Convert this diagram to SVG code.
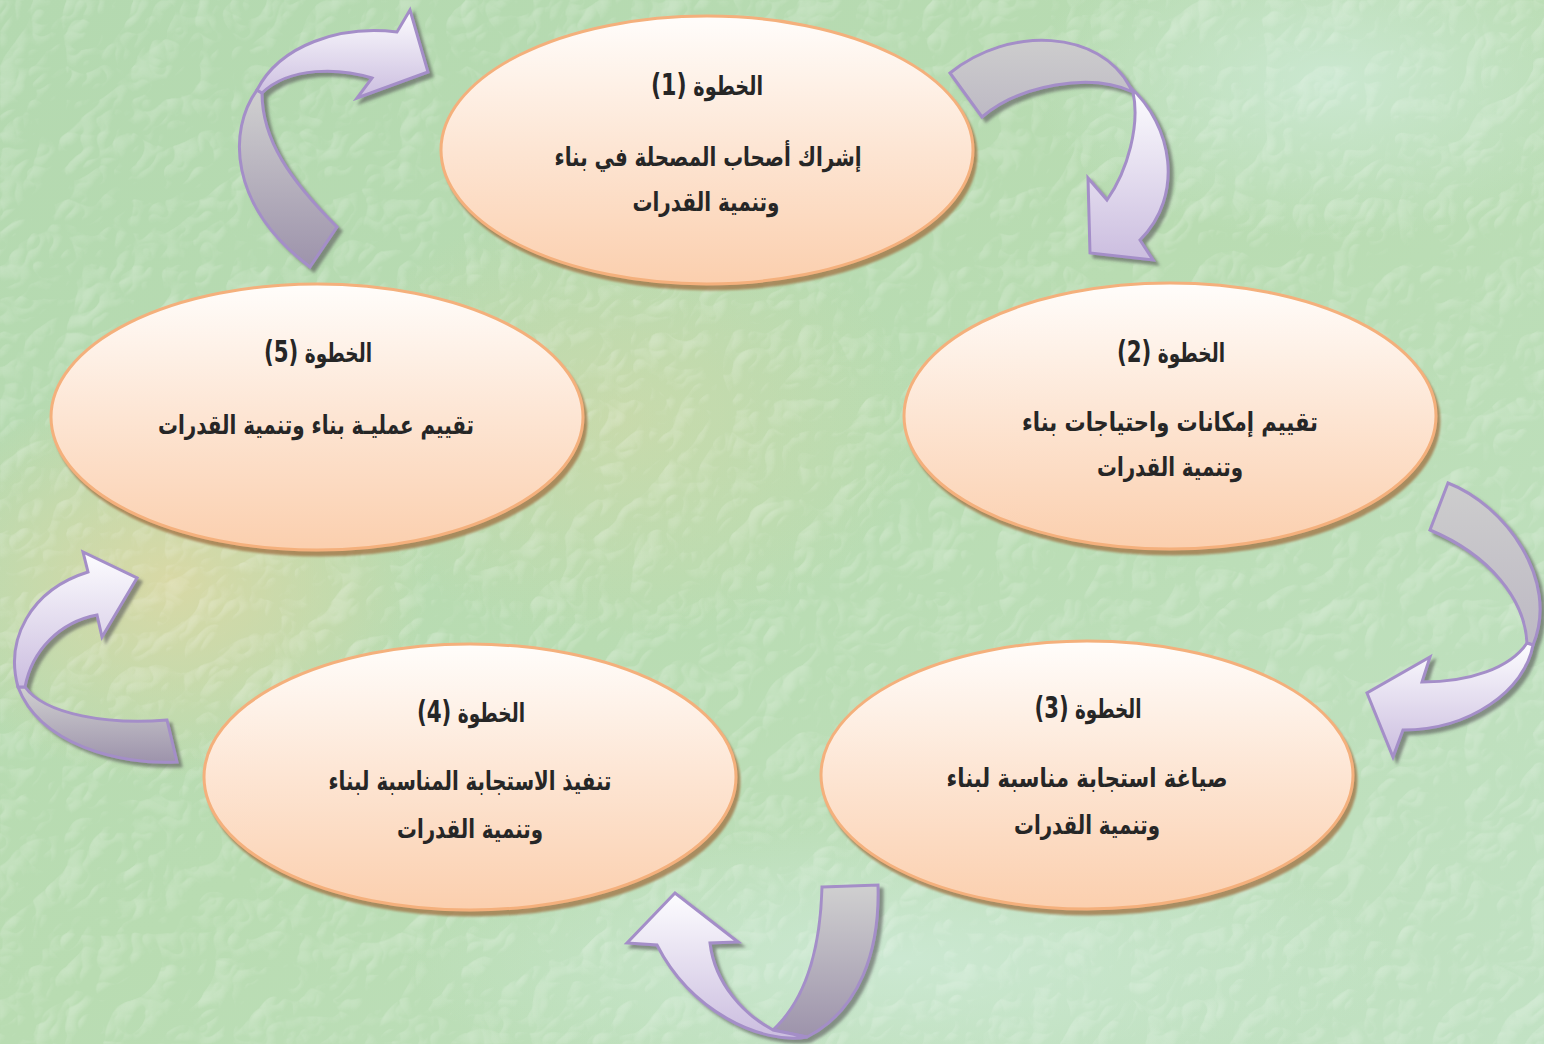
<svg xmlns="http://www.w3.org/2000/svg" width="1544" height="1044" viewBox="0 0 1544 1044">
<defs>
<linearGradient id="bg" x1="0" y1="0" x2="1" y2="1">
<stop offset="0" stop-color="#b4d9b0"/>
<stop offset="0.5" stop-color="#b9dcb2"/>
<stop offset="1" stop-color="#c2e2c4"/>
</linearGradient>
<radialGradient id="warm1" cx="0.5" cy="0.5" r="0.5">
<stop offset="0" stop-color="#dcd8a4" stop-opacity="0.9"/>
<stop offset="1" stop-color="#dcd8a4" stop-opacity="0"/>
</radialGradient>
<radialGradient id="cool1" cx="0.5" cy="0.5" r="0.5">
<stop offset="0" stop-color="#cde9d4" stop-opacity="0.9"/>
<stop offset="1" stop-color="#cde9d4" stop-opacity="0"/>
</radialGradient>
<linearGradient id="ellFill" x1="0" y1="0" x2="0" y2="1">
<stop offset="0" stop-color="#fffdfb"/>
<stop offset="0.5" stop-color="#fde5d3"/>
<stop offset="1" stop-color="#fbcfae"/>
</linearGradient>
<linearGradient id="headFill" x1="0" y1="0" x2="0" y2="1">
<stop offset="0" stop-color="#fdfdff"/>
<stop offset="1" stop-color="#cbbddf"/>
</linearGradient>
<linearGradient id="tailFill" x1="0" y1="0" x2="0" y2="1">
<stop offset="0" stop-color="#d0d0d0"/>
<stop offset="1" stop-color="#9d93ab"/>
</linearGradient>
<linearGradient id="tailFlat" x1="0" y1="0" x2="0" y2="1">
<stop offset="0" stop-color="#cdcdcd"/>
<stop offset="1" stop-color="#bdb9c4"/>
</linearGradient>
<filter id="tex" x="0" y="0" width="100%" height="100%">
<feTurbulence type="turbulence" baseFrequency="0.015" numOctaves="3" seed="11" result="n"/>
<feDiffuseLighting in="n" surfaceScale="5" lighting-color="#ffffff" result="l">
<feDistantLight azimuth="225" elevation="45"/>
</feDiffuseLighting>
<feColorMatrix in="l" type="matrix" values="0 0 0 0 1  0 0 0 0 1  0 0 0 0 1  1.6 0 0 0 -1.1"/>
</filter>
<filter id="ellShadow" x="-5%" y="-5%" width="112%" height="115%">
<feDropShadow dx="3" dy="5" stdDeviation="1.2" flood-color="#a0703f" flood-opacity="0.75"/>
</filter>
<filter id="arrShadow" x="-10%" y="-10%" width="125%" height="125%">
<feDropShadow dx="4" dy="4" stdDeviation="1.5" flood-color="#555555" flood-opacity="0.6"/>
</filter>
<style>
.ell{fill:url(#ellFill);stroke:#f4b07c;stroke-width:3;}
.head{fill:url(#headFill);stroke:#a48ec8;stroke-width:3;stroke-linejoin:miter;}
.tail{fill:url(#tailFill);stroke:#a48ec8;stroke-width:3;stroke-linejoin:miter;}
.flat{fill:url(#tailFlat);}
.t{font-family:"DejaVu Sans",sans-serif;font-weight:bold;fill:#262626;text-anchor:middle;}
.ttl{font-size:26px;}
.num{font-size:30px;}
.bd{font-size:26px;}
</style>
</defs>
<g id="background">
<rect x="0" y="0" width="1544" height="1044" fill="url(#bg)"/>
<ellipse cx="170" cy="580" rx="260" ry="200" fill="url(#warm1)"/>
<ellipse cx="620" cy="420" rx="300" ry="220" fill="url(#warm1)" opacity="0.5"/>
<ellipse cx="1330" cy="80" rx="300" ry="160" fill="url(#cool1)"/>
<ellipse cx="900" cy="960" rx="500" ry="140" fill="url(#cool1)"/>
<rect x="0" y="0" width="1544" height="1044" filter="url(#tex)" opacity="0.6"/>
</g>
<g id="connectors" filter="url(#arrShadow)">
<g id="arrow-5-1">
<path class="tail" d="M310,267 L337,227 C290,180 262,140 262,93 L257,90 C228,130 228,205 310,267 Z"/>
<path class="head" d="M257,90 C280,45 340,25 397,32 L410,10 L428,72 L357,98 L372,78 C340,68 290,66 262,93 Z"/>
</g>
<g id="arrow-1-2">
<path class="tail flat" d="M950,73 L982,117 C1020,85 1090,72 1133,92 L1130,87 C1100,30 1010,25 950,73 Z"/>
<path class="head" d="M1130,87 C1172,125 1185,195 1140,240 L1153,260 L1090,253 L1088,178 L1107,200 C1128,170 1140,125 1133,92 Z"/>
</g>
<g id="arrow-2-3">
<path class="tail flat" d="M1448,483 C1505,505 1560,580 1533,645 L1527,643 C1525,600 1490,555 1430,530 Z"/>
<path class="head" d="M1533,645 C1525,690 1470,730 1403,730 L1393,757 L1367,693 L1430,657 L1422,682 C1470,682 1510,668 1527,643 Z"/>
</g>
<g id="arrow-3-4">
<path class="tail" d="M822,887 L878,885 C880,950 860,1010 807,1037 L773,1030 C800,1005 820,960 822,887 Z"/>
<path class="head" d="M807,1037 C760,1045 690,1010 657,945 L627,943 L675,893 L738,942 L710,943 C715,985 745,1015 773,1030 Z"/>
</g>
<g id="arrow-4-5">
<path class="tail" d="M167,720 L177,762 C120,765 40,745 18,687 L25,687 C45,715 110,725 167,720 Z"/>
<path class="head" d="M18,687 C5,640 30,590 88,572 L83,552 L137,578 L102,637 L97,615 C60,622 32,650 25,687 Z"/>
</g>
</g>
<g id="step1">
<ellipse class="ell" cx="707" cy="150" rx="266" ry="134" filter="url(#ellShadow)"/>
<text class="t ttl" x="707" y="95" direction="rtl" textLength="112" lengthAdjust="spacingAndGlyphs">الخطوة <tspan class="num">(1)</tspan></text>
<text class="t bd" x="708" y="166" direction="rtl" textLength="307" lengthAdjust="spacingAndGlyphs">إشراك أصحاب المصحلة في بناء</text>
<text class="t bd" x="706" y="211" direction="rtl" textLength="147" lengthAdjust="spacingAndGlyphs">وتنمية القدرات</text>
</g>
<g id="step2">
<ellipse class="ell" cx="1170" cy="416" rx="266" ry="133" filter="url(#ellShadow)"/>
<text class="t ttl" x="1171" y="362" direction="rtl" textLength="108" lengthAdjust="spacingAndGlyphs">الخطوة <tspan class="num">(2)</tspan></text>
<text class="t bd" x="1170" y="431" direction="rtl" textLength="296" lengthAdjust="spacingAndGlyphs">تقييم إمكانات واحتياجات بناء</text>
<text class="t bd" x="1170" y="476" direction="rtl" textLength="146" lengthAdjust="spacingAndGlyphs">وتنمية القدرات</text>
</g>
<g id="step3">
<ellipse class="ell" cx="1087" cy="775" rx="266" ry="134" filter="url(#ellShadow)"/>
<text class="t ttl" x="1088" y="718" direction="rtl" textLength="107" lengthAdjust="spacingAndGlyphs">الخطوة <tspan class="num">(3)</tspan></text>
<text class="t bd" x="1087" y="787" direction="rtl" textLength="281" lengthAdjust="spacingAndGlyphs">صياغة استجابة مناسبة لبناء</text>
<text class="t bd" x="1087" y="834" direction="rtl" textLength="146" lengthAdjust="spacingAndGlyphs">وتنمية القدرات</text>
</g>
<g id="step4">
<ellipse class="ell" cx="470" cy="777" rx="266" ry="133" filter="url(#ellShadow)"/>
<text class="t ttl" x="471" y="722" direction="rtl" textLength="108" lengthAdjust="spacingAndGlyphs">الخطوة <tspan class="num">(4)</tspan></text>
<text class="t bd" x="470" y="790" direction="rtl" textLength="283" lengthAdjust="spacingAndGlyphs">تنفيذ الاستجابة المناسبة لبناء</text>
<text class="t bd" x="470" y="838" direction="rtl" textLength="146" lengthAdjust="spacingAndGlyphs">وتنمية القدرات</text>
</g>
<g id="step5">
<ellipse class="ell" cx="317" cy="417" rx="266" ry="133" filter="url(#ellShadow)"/>
<text class="t ttl" x="318" y="362" direction="rtl" textLength="108" lengthAdjust="spacingAndGlyphs">الخطوة <tspan class="num">(5)</tspan></text>
<text class="t bd" x="316" y="434" direction="rtl" textLength="316" lengthAdjust="spacingAndGlyphs">تقييم عمليـة بناء وتنمية القدرات</text>
</g>
</svg>
